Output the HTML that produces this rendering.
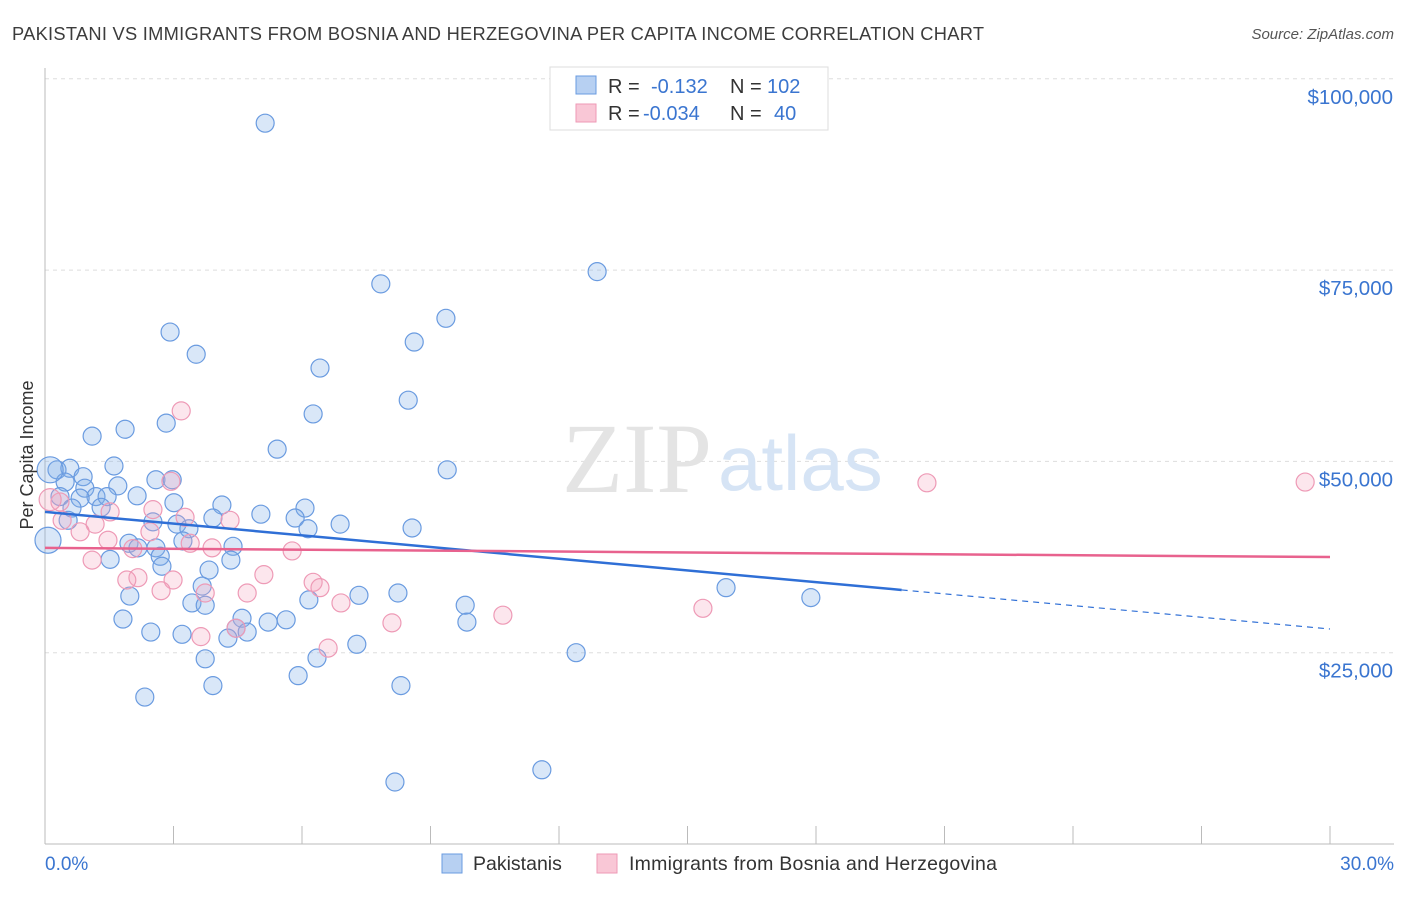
<!DOCTYPE html>
<html><head><meta charset="utf-8"><style>
body{margin:0;background:#fff;font-family:"Liberation Sans",sans-serif;}
svg text{font-family:"Liberation Sans",sans-serif;}
</style></head><body>
<svg id="c" width="1406" height="892" xmlns="http://www.w3.org/2000/svg">
<text x="12" y="40" font-size="18.3" fill="#3c3c3c" textLength="972">PAKISTANI VS IMMIGRANTS FROM BOSNIA AND HERZEGOVINA PER CAPITA INCOME CORRELATION CHART</text>
<text x="1394" y="39" font-size="15" fill="#555" font-style="italic" text-anchor="end">Source: ZipAtlas.com</text>
<g id="grid"></g>
<text x="712" y="492" font-size="100" fill="#e4e4e4" text-anchor="end" style="font-family:'Liberation Serif',serif">ZIP</text>
<text x="718" y="490" font-size="78" fill="#d6e4f5">atlas</text>
<g id="pts"></g>
<g id="lines"></g>
<text x="33" y="455" font-size="18" fill="#333" text-anchor="middle" transform="rotate(-90 33 455)">Per Capita Income</text>
<text x="45" y="870" font-size="19" fill="#3a75d0">0.0%</text>
<text x="1394" y="870" font-size="19" fill="#3a75d0" text-anchor="end">30.0%</text>
<g>
<rect x="550" y="67" width="278" height="63" fill="#fff" stroke="#ddd"/>
<rect x="576" y="76" width="20" height="18" fill="#b7d0f2" stroke="#6a9be0"/>
<rect x="576" y="104" width="20" height="18" fill="#f9c7d6" stroke="#ee9ab6"/>
<text x="608" y="93" font-size="20" fill="#333">R = </text><text x="651" y="93" font-size="20" fill="#3a75d0">-0.132</text>
<text x="730" y="93" font-size="20" fill="#333">N = </text><text x="767" y="93" font-size="20" fill="#3a75d0">102</text>
<text x="608" y="120" font-size="20" fill="#333">R = </text><text x="643" y="120" font-size="20" fill="#3a75d0">-0.034</text>
<text x="730" y="120" font-size="20" fill="#333">N = </text><text x="774" y="120" font-size="20" fill="#3a75d0">40</text>
</g>
<g>
<rect x="442" y="854" width="20" height="19" fill="#b7d0f2" stroke="#6a9be0"/>
<text x="473" y="870" font-size="19.5" fill="#333">Pakistanis</text>
<rect x="597" y="854" width="20" height="19" fill="#f9c7d6" stroke="#ee9ab6"/>
<text x="629" y="870" font-size="19.5" fill="#333" textLength="368">Immigrants from Bosnia and Herzegovina</text>
</g>
</svg>
<script>
const yTicks=[25000,50000,75000,100000];
const yTickLabels=["$25,000","$50,000","$75,000","$100,000"];
const xTicks=[0,3,6,9,12,15,18,21,24,27,30];
const blueX=[5.14,12.89,7.84,9.36,2.92,8.62,3.53,6.42,8.48,6.26,2.83,1.10,1.87,5.42,9.39,1.61,0.28,0.58,0.89,2.59,2.97,0.47,0.93,1.70,2.15,1.19,1.45,0.82,0.35,3.01,4.13,6.07,0.63,1.31,5.04,3.92,5.84,2.52,3.08,6.89,8.57,3.36,6.14,0.54,1.96,2.59,2.17,4.39,3.22,1.52,2.69,2.73,4.34,3.83,3.67,15.90,17.88,7.33,8.24,1.98,3.43,3.74,6.16,9.81,4.60,1.82,5.63,5.21,4.46,4.72,2.47,3.20,4.27,9.85,7.28,12.40,3.74,6.35,5.91,3.92,8.31,2.33,11.60,8.17,0.07,0.12];
const blueY=[94200,74800,73200,68700,66900,65600,64000,62200,58000,56200,55000,53300,54200,51600,48900,49400,48900,49100,48000,47600,47600,47300,46500,46800,45500,45400,45400,45200,45400,44600,44300,43900,43900,44000,43100,42600,42600,42100,41800,41800,41300,41200,41200,42300,39300,38700,38700,38900,39600,37200,37600,36300,37100,35800,33700,33500,32200,32500,32800,32400,31500,31200,31900,31200,29500,29400,29300,29000,28200,27700,27700,27400,26900,29000,26100,25000,24200,24300,22000,20700,20700,19200,9700,8100,39700,48900];
const pinkX=[3.18,2.94,0.35,2.52,3.27,4.32,1.17,0.82,1.47,2.45,3.39,3.90,5.77,2.05,1.10,5.11,2.17,1.91,2.99,6.26,6.42,2.71,3.74,4.72,6.91,10.69,8.10,15.36,4.46,3.64,6.61,20.59,29.42,1.52,0.12,0.40];
const pinkY=[56600,47400,44700,43700,42700,42300,41800,40800,39700,40800,39300,38700,38300,38600,37100,35200,34800,34500,34500,34200,33500,33100,32800,32800,31500,29900,28900,30800,28200,27100,25600,47200,47300,43400,45000,42300];
const blueTrend=[43400,33200,28100]; // at x=0, 20, 30
const pinkTrend=[38700,37500]; // at x=0, 30
const X=v=>45+v/30*1285, Y=v=>844-v/25000*191.3;
const NS="http://www.w3.org/2000/svg";
function mk(t,a,p){const e=document.createElementNS(NS,t);for(const k in a)e.setAttribute(k,a[k]);p.appendChild(e);return e;}
const grid=document.getElementById('grid');
yTicks.forEach((v,i)=>{
 const l=mk('line',{x1:45,x2:1394,y1:Y(v),y2:Y(v),stroke:'#ddd','stroke-dasharray':'4,4'},grid);
 
 
 const t=mk('text',{x:1393,y:Y(v)+25,'font-size':20.5,fill:'#3a75d0','text-anchor':'end'},grid);
 t.textContent=yTickLabels[i];
 
 
});
const ax=mk('line',{x1:45,x2:45,y1:68,y2:844,stroke:'#bbb'},grid);


const bx=mk('line',{x1:45,x2:1394,y1:844,y2:844,stroke:'#bbb'},grid);


xTicks.forEach(v=>{const t=mk('line',{x1:X(v),x2:X(v),y1:826,y2:844,stroke:'#bbb'},grid);
 
 });
const pts=document.getElementById('pts');
blueX.forEach((v,i)=>{const c=mk('circle',{cx:X(v),cy:Y(blueY[i]),r:i>=84?13:9,fill:'rgba(130,175,232,0.3)',stroke:'#6a9be0','stroke-width':1.2},pts);
 
 });
pinkX.forEach((v,i)=>{const c=mk('circle',{cx:X(v),cy:Y(pinkY[i]),r:i==34?11:9,fill:'rgba(245,165,190,0.28)',stroke:'#ee9ab6','stroke-width':1.2},pts);
 
 });
const ln=document.getElementById('lines');
const b1=mk('line',{x1:X(0),y1:Y(blueTrend[0]),x2:X(20),y2:Y(blueTrend[1]),stroke:'#2f6fd6','stroke-width':2.5},ln);


const b2=mk('line',{x1:X(20),y1:Y(blueTrend[1]),x2:X(30),y2:Y(blueTrend[2]),stroke:'#2f6fd6','stroke-width':1.2,'stroke-dasharray':'6,5'},ln);


const p1=mk('line',{x1:X(0),y1:Y(pinkTrend[0]),x2:X(30),y2:Y(pinkTrend[1]),stroke:'#e8628e','stroke-width':2.5},ln);


</script>
</body></html>
